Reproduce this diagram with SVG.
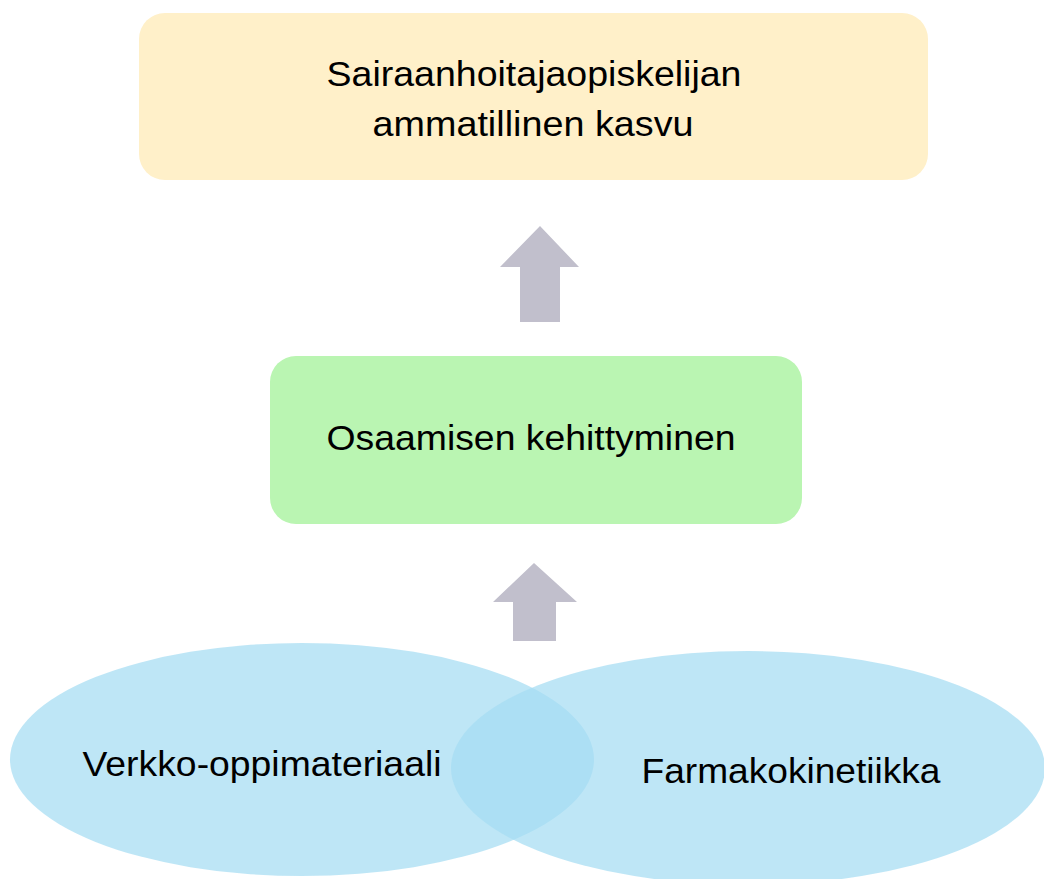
<svg xmlns="http://www.w3.org/2000/svg" width="1044" height="879" viewBox="0 0 1044 879">
<style>
.t{font-family:"Liberation Sans",Arial,sans-serif;font-size:35px;fill:#000;text-anchor:middle}
.arrow{fill:#c1bfcc}
.ell{fill:rgb(165,220,243);fill-opacity:0.72}
</style>
<rect width="1044" height="879" fill="#ffffff"/>
<g id="connectors">
<polygon class="arrow" points="540,226 579,267 560,267 560,322 520,322 520,267 500,267"/>
<polygon class="arrow" points="534,563 577,602 556,602 556,641 513,641 513,602 493,602"/>
</g>
<g id="node-top">
<rect x="139" y="13" width="789" height="167" rx="26" ry="26" fill="#fff0c9"/>
<text class="t" x="534" y="86" textLength="415" lengthAdjust="spacingAndGlyphs">Sairaanhoitajaopiskelijan</text>
<text class="t" x="533" y="136" textLength="321" lengthAdjust="spacingAndGlyphs">ammatillinen kasvu</text>
</g>
<g id="node-middle">
<rect x="270" y="356" width="532" height="168" rx="26" ry="26" fill="#baf5b2"/>
<text class="t" x="531" y="450" textLength="409" lengthAdjust="spacingAndGlyphs">Osaamisen kehittyminen</text>
</g>
<g id="node-left">
<ellipse class="ell" cx="302" cy="759.5" rx="292" ry="116.5"/>
<text class="t" x="262" y="776" textLength="359" lengthAdjust="spacingAndGlyphs">Verkko-oppimateriaali</text>
</g>
<g id="node-right">
<ellipse class="ell" cx="748" cy="768" rx="297" ry="117"/>
<text class="t" x="791" y="783" textLength="299" lengthAdjust="spacingAndGlyphs">Farmakokinetiikka</text>
</g>
</svg>
